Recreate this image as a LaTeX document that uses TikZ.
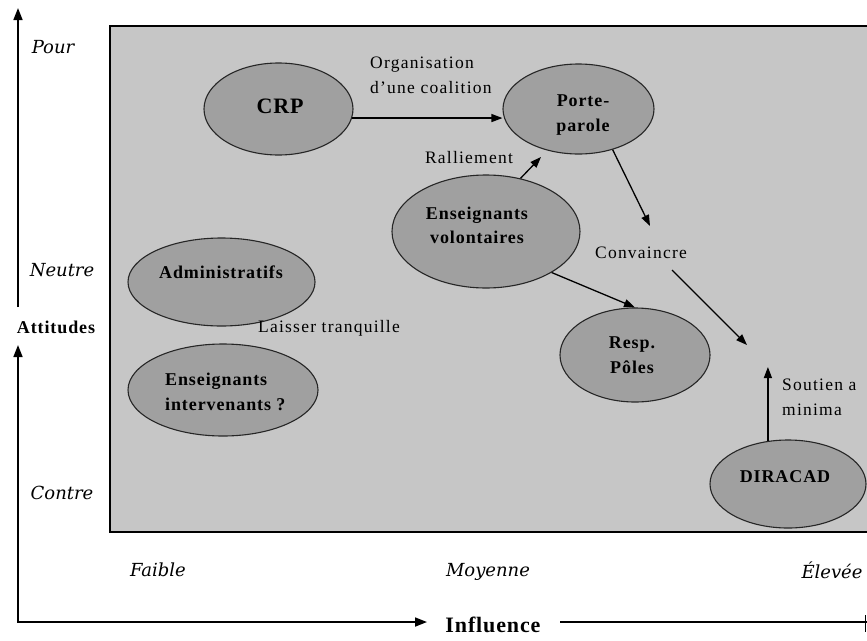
\documentclass[tikz,border=0pt]{standalone}
\usepackage{fontspec}
\setmainfont{Liberation Serif}
\newfontfamily\axisfont{DejaVu Serif}
\usetikzlibrary{shapes.geometric,arrows.meta}
\definecolor{boxgray}{HTML}{C6C6C6}
\definecolor{blobgray}{HTML}{A0A0A0}
\tikzset{
  blob/.style={ellipse, draw=black!85, line width=1.1pt, fill=blobgray, inner sep=0pt},
  tag/.style={inner sep=0pt, align=center, font=\fontsize{17.5}{25}\selectfont\addfontfeature{LetterSpace=7}},
  actor/.style={inner sep=0pt, align=center, font=\fontsize{18}{24.5}\selectfont\bfseries\addfontfeature{LetterSpace=5}},
  bigactor/.style={actor, font=\fontsize{22}{26}\selectfont\bfseries\addfontfeature{LetterSpace=4}},
  level/.style={inner sep=0pt, font=\axisfont\itshape\fontsize{18}{21}\selectfont},
  axisline/.style={line width=1.7pt},
  tip/.style={-{Triangle[length=12pt,width=9pt]}},
  link/.style={line width=1.3pt, -{Triangle[length=11pt,width=8pt]}},
}
\begin{document}
\begin{tikzpicture}[x=1pt,y=-1pt]
\useasboundingbox (0,0) rectangle (867,640);
\clip (0,0) rectangle (867,640);

% shaded field of the grid
\draw[line width=1.3pt, fill=boxgray] (110,26) rectangle (880,532);

% actors
\node[blob, minimum width=149pt, minimum height=92pt]  (crp) at (278.5,109) {};
\node[blob, minimum width=151pt, minimum height=90pt]  (pp)  at (578.5,109) {};
\node[blob, minimum width=188pt, minimum height=113pt] (ev)  at (486,231.5) {};
\node[blob, minimum width=187pt, minimum height=88pt]  (adm) at (221.5,282) {};
\node[blob, minimum width=190pt, minimum height=92pt]  (ei)  at (223,390) {};
\node[blob, minimum width=150pt, minimum height=94pt]  (rp)  at (635,355) {};
\node[blob, minimum width=156pt, minimum height=88pt]  (dir) at (788,484) {};

\node[bigactor] (crpT) at (280,106) {CRP};
\node[actor] (ppT)  at (583,115) {Porte-\\parole};
\node[actor] (evT)  at (477,225.5) {Enseignants\\volontaires};
\node[actor] (admT) at (221,272) {Administratifs};
\node[actor, align=left, anchor=west] (eiT) at (165,392) {Enseignants\\intervenants ?};
\node[actor] (rpT)  at (632,355) {Resp.\\Pôles};
\node[actor] (dirT) at (785,477) {DIRACAD};

% strategy labels
\node[tag, align=left, anchor=west] (coal) at (370,75.5) {Organisation\\d'une coalition};
\node[tag] (ral)  at (469,158) {Ralliement};
\node[tag] (conv) at (641,253) {Convaincre};
\node[tag] (lt)   at (329,328) {Laisser tranquille};
\node[tag, align=left, anchor=west] (sout) at (782,397.5) {Soutien a\\minima};

% axis labels
\node[level] (pour)   at (53,47)  {Pour};
\node[level] (neutre) at (62,270) {Neutre};
\node[actor] (att)    at (56,327) {Attitudes};
\node[level] (contre) at (62,493) {Contre};
\node[level] (faible) at (158,570) {Faible};
\node[level] (moy)    at (488,572) {Moyenne};
\node[level] (elev)   at (832,570) {Élevée};
\node[bigactor] (infl) at (493,625) {Influence};

% axes
\coordinate (topTip)    at (18,8);
\coordinate (upStart)   at (18,307);
\coordinate (lowTip)    at (18,345);
\coordinate (corner)    at (18,622);
\coordinate (rightTip)  at (427,622);
\coordinate (rightFrom) at (560,622);
\coordinate (rightEnd)  at (875,622);
\coordinate (edgeTop)   at (865,615);
\coordinate (edgeBot)   at (865,632);
\draw[axisline, tip] (upStart) -- (topTip);
\draw[axisline, {Triangle[length=12pt,width=9pt]}-{Triangle[length=12pt,width=9pt]}]
  (lowTip) -- (corner) -- (rightTip);
\draw[axisline] (rightFrom) -- (rightEnd);
\draw[line width=1pt] (edgeTop) -- (edgeBot);

% strategies
\coordinate (ralTip)   at (541,157);
\coordinate (convTip)  at (650,226);
\coordinate (convFrom) at (672,270);
\coordinate (meet)     at (747,345);
\coordinate (supTip)   at (767,367);
\draw[link] (crp.-7) -- (pp.west |- crp.-7);
\draw[link] (ev.57) -- (ralTip);
\draw[link] (pp.-50) -- (convTip);
\draw[link] (convFrom) -- (meet);
\draw[link] (ev.-32) -- (rp.north);
\draw[link] (dir.115) -- (dir.115 |- supTip);
\end{tikzpicture}
\end{document}
